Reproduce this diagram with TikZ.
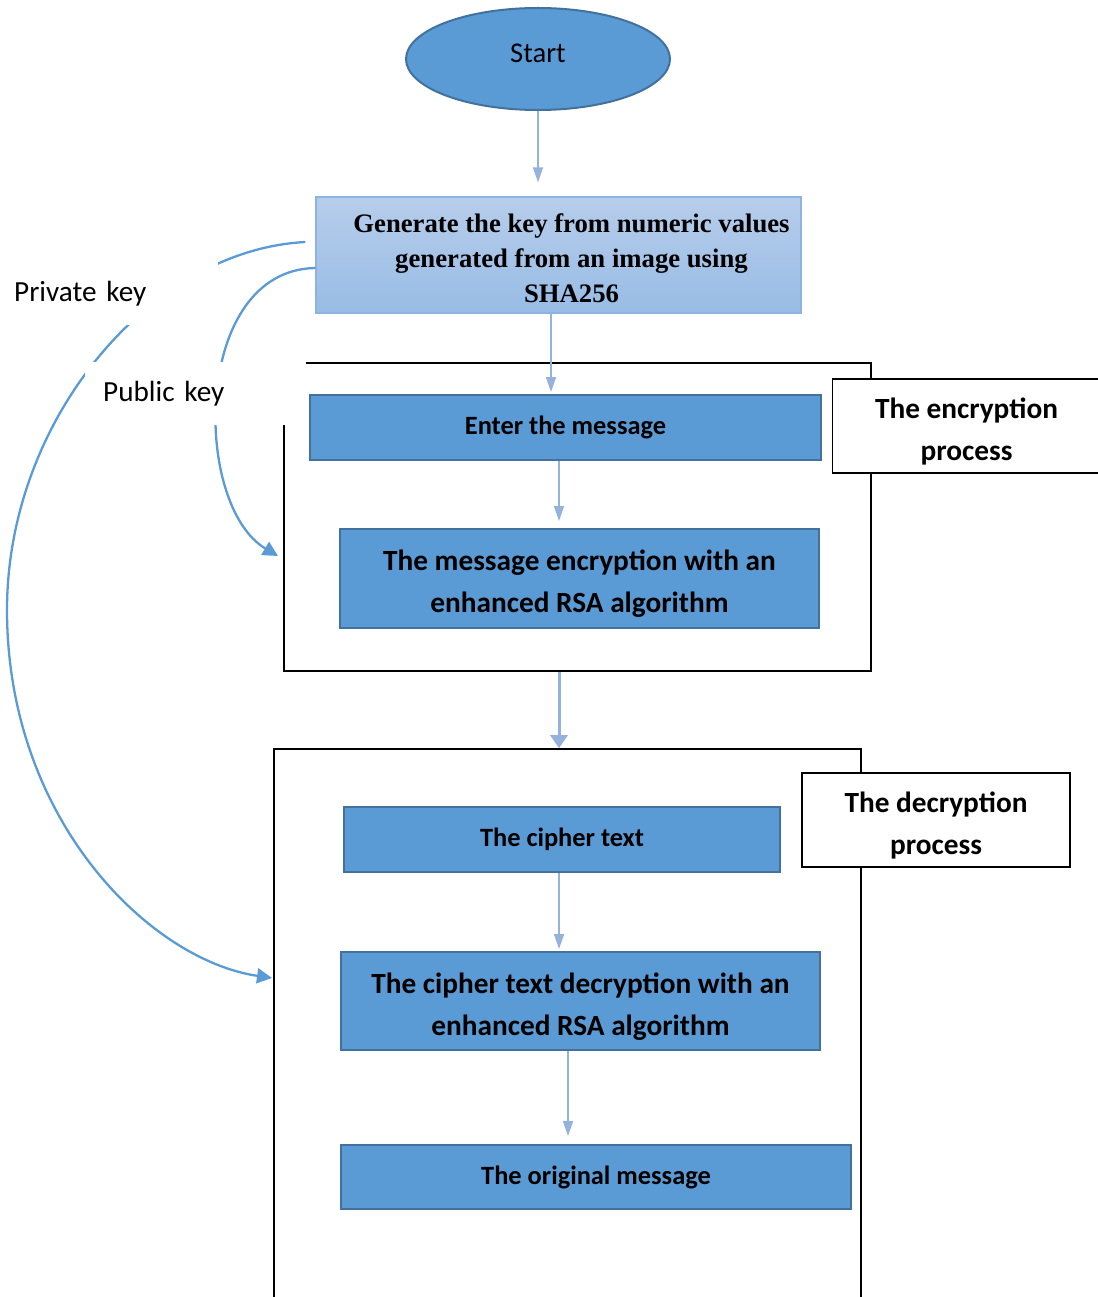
\documentclass[tikz,border=0pt]{standalone}
\usepackage{fontspec}
\setmainfont{Carlito}
\newfontfamily\gentimes{Liberation Serif}
\usetikzlibrary{arrows.meta,shapes.geometric,positioning,calc}
\definecolor{procblue}{RGB}{91,155,213}
\definecolor{procedge}{RGB}{65,113,156}
\definecolor{flowblue}{RGB}{148,178,219}
\definecolor{keyblue}{RGB}{91,155,213}
\definecolor{gentop}{RGB}{183,205,235}
\definecolor{genbot}{RGB}{152,188,229}
\definecolor{genedge}{RGB}{141,179,226}
\newcommand{\tallrow}[1]{\rule{0pt}{#1}}
\newcommand{\genline}{\hspace*{26pt}}

\begin{document}
\begin{tikzpicture}[x=1pt, y=1pt,
    procbox/.style={draw=procedge, line width=2pt, fill=procblue, align=center, inner sep=0pt},
    onefont/.style={font=\fontsize{26.4}{32}\selectfont\bfseries},
    twofont/.style={font=\fontsize{29.3}{42}\selectfont\bfseries},
    stageframe/.style={draw, line width=1.6pt, inner sep=0pt},
    stagelbl/.style={draw, line width=1.3pt, fill=white, align=center, inner sep=0pt, minimum width=268pt, minimum height=94pt, font=\fontsize{29.3}{42}\selectfont\bfseries},
    keylbl/.style={fill=white, anchor=north west, align=left, inner ysep=0pt, minimum height=63pt, font=\fontsize{29.2}{35}\selectfont},
    arr/.style={-{Triangle[length=15pt, width=10pt]}, flowblue, line width=1.5pt},
    keyarr/.style={-{Triangle[length=15pt, width=15pt]}, keyblue, line width=2.3pt}
]
\useasboundingbox (0,0) rectangle (1097,-1297);

\node[stageframe, minimum width=587pt, minimum height=308pt] (encfr) at (577.5,-517) {};
\node[stageframe, minimum width=587pt, minimum height=561pt] (decfr) at (567.5,-1029.5) {};

\node[draw=procedge, line width=2pt, fill=procblue, ellipse, minimum width=264pt, minimum height=102pt, font=\fontsize{28.6}{34}\selectfont] (start) at (538,-59) {Start\rule[-12pt]{0pt}{0pt}};
\node[draw=genedge, line width=1.3pt, top color=gentop, bottom color=genbot, align=center, minimum width=485pt, minimum height=116pt, font=\gentimes\bfseries\fontsize{26.7}{35}\selectfont] (gen) at (558.5,-255) {\tallrow{25pt}\genline Generate the key from numeric values\\\genline generated from an image using\\\genline SHA256};
\node[procbox, onefont, minimum width=511pt, minimum height=65pt] (enter) at (565.5,-427.5) {Enter the message};
\node[procbox, twofont, minimum width=479pt, minimum height=99pt] (encrsa) at (579.5,-578.5) {\tallrow{31pt}The message encryption with an\\enhanced RSA algorithm};
\node[stagelbl] (enclbl) at (966.5,-426) {\tallrow{32pt}The encryption\\process};
\node[procbox, onefont, minimum width=436pt, minimum height=65pt] (cipher) at (562,-839.5) {The cipher text};
\node[stagelbl] (declbl) at (936,-820) {\tallrow{32pt}The decryption\\process};
\node[procbox, twofont, minimum width=479pt, minimum height=98pt] (decrsa) at (580.5,-1001) {\tallrow{31pt}The cipher text decryption with an\\enhanced RSA algorithm};
\node[procbox, onefont, minimum width=510pt, minimum height=64pt] (orig) at (596,-1177) {The original message};

\draw[arr, shorten >=14pt] (start.south) -- (start.south |- gen.north);
\draw[arr, shorten >=2pt] ($(gen.south)+(-7.5,0)$) -- ($(gen.south |- enter.north)+(-7.5,0)$);
\draw[arr, shorten >=7pt] ($(enter.south)+(-6.5,0)$) -- ($(enter.south |- encrsa.north)+(-6.5,0)$);
\draw[arr, line width=3pt, -{Triangle[length=13pt, width=17pt]}] ($(encfr.south)+(-18.5,0)$) -- ($(encfr.south |- decfr.north)+(-18.5,0)$);
\draw[arr, shorten >=2pt] ($(cipher.south)+(-3,0)$) -- ($(cipher.south |- decrsa.north)+(-3,0)$);
\draw[arr, shorten >=8pt] ($(decrsa.south)+(-12.5,0)$) -- ($(decrsa.south |- orig.north)+(-12.5,0)$);

\coordinate (pubtip) at (278,-556);
\coordinate (privtip) at (272,-978);
\draw[keyarr] ([yshift=-13pt]gen.west) .. controls (192,-270) and (192,-505) .. (pubtip);
\draw[keyarr] ([shift={(-10pt,13pt)}]gen.west) .. controls (150,-250) and (7,-420) .. (7,-610) .. controls (7,-820) and (150,-960) .. (privtip);

\node[keylbl, inner xsep=14pt, text width=190pt] (privlbl) at (0,-262) {Private key};
\node[keylbl, inner xsep=18pt, text width=185pt] (publbl) at (85,-362) {Public key};
\end{tikzpicture}
\end{document}
